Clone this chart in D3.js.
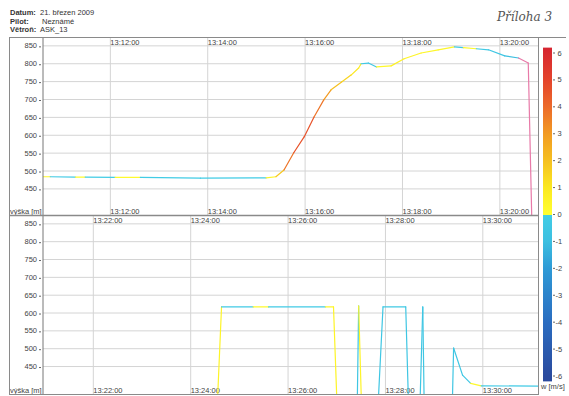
<!DOCTYPE html>
<html>
<head>
<meta charset="utf-8">
<script src="https://cdn.jsdelivr.net/npm/d3@7"></script>
<style>
  body { margin: 0; background: #fff; }
  svg { display: block; font-family: "Liberation Sans", Arial, sans-serif; }
  .grid line { stroke: #d4d4d4; stroke-width: 1; }
  .lbl { font-size: 7.5px; fill: #444; }
</style>
</head>
<body>
<div id="chart"></div>
<script>
// Header texts
var headerLabels = ["Datum:", "Pilot:", "Větroň:"];
var headerValues = ["21. březen 2009", "Neznámé", "ASK_13"];

// Upper panel (13:10:37 - 13:20:47): altitude [m] and vertical speed w [m/s] of following segment
var topRange = ["13:10:37", "13:20:47"];
var topTimes = ["13:10:37", "13:10:46", "13:11:17", "13:11:29", "13:12:06", "13:12:37", "13:13:51",
  "13:15:12", "13:15:24", "13:15:34", "13:15:46", "13:15:59", "13:16:11", "13:16:23", "13:16:32",
  "13:16:45", "13:16:57", "13:17:06", "13:17:09", "13:17:18", "13:17:28", "13:17:46", "13:18:02",
  "13:18:23", "13:18:44", "13:19:04", "13:19:15", "13:19:31", "13:19:46", "13:20:06", "13:20:23",
  "13:20:35", "13:20:40"];
var topAlt = [484, 484, 483, 483, 482, 482, 480, 481, 484, 503, 551, 596, 651, 699, 727,
  749, 769, 788, 800, 802, 791, 794, 814, 830, 839, 847, 845, 842, 839, 822, 816,
  802, 300];
var topW = [0.3, -0.2, 0.2, -0.1, 0.2, -0.1, -0.1, 0.5, 1.8, 3.8, 4.6, 4.6, 3.8, 3.0, 2.0,
  1.5, 1.0, 0.8, -0.3, -0.4, 0.3, 0.6, 0.5, 0.4, 0.4, -0.3, 0.3, -0.3, -0.5, -1.0, -9,
  -9, -9];

// Lower panel (13:20:58 - 13:31:08)
var botRange = ["13:20:58", "13:31:08"];
var botTimes = ["13:20:58", "13:24:32", "13:24:38", "13:25:17", "13:25:36", "13:26:46", "13:26:56",
  "13:27:01", "13:27:25", "13:27:27", "13:27:31", "13:27:50", "13:27:57", "13:28:25", "13:28:29",
  "13:28:42", "13:28:46", "13:28:48", "13:29:22", "13:29:24", "13:29:35", "13:29:45", "13:29:58",
  "13:31:08"];
var botAlt = [300, 300, 617, 617, 617, 617, 617, 300, 300, 620, 300, 300, 617, 617, 300,
  300, 617, 300, 300, 502, 426, 403, 396, 395];
var botW = [-0.3, 0.5, -0.2, 0.2, -0.2, 0.3, 0.5, -0.3, -0.5, 0.5, -0.3, -0.5, -0.3, -0.5, -0.3,
  -0.5, -0.5, -0.3, -0.5, -0.5, -0.4, 0.3, -0.2, -0.2];

// Altitude ticks and colour bar ticks
var altTicks = [450, 500, 550, 600, 650, 700, 750, 800, 850];
var wTicks = [-6, -5, -4, -3, -2, -1, 0, 1, 2, 3, 4, 5, 6];

var svgWidth = 569, svgHeight = 396;
var svg = d3.select("#chart").append("svg")
  .attr("width", svgWidth)
  .attr("height", svgHeight);

var parseTime = d3.timeParse("%H:%M:%S");
var fmt = d3.timeFormat("%H:%M:%S");

// Colour of vertical speed
var negColor = d3.scaleLinear()
  .domain([-6, -4, -2, -1, 0])
  .range(["#2a4a9e", "#2a6cc0", "#2e9ad6", "#3cbfe0", "#42cde6"]);
var posColor = d3.scaleLinear()
  .domain([0, 1, 2, 3, 4, 5, 6])
  .range(["#ffff30", "#fbe820", "#f5c020", "#f29a22", "#ec6a2a", "#e4442c", "#d82a30"]);
function wColor(w) {
  if (w < -6) return "#e87aa8";
  return w < 0 ? negColor(w) : posColor(w);
}

// Header
var header = svg.append("g");
headerLabels.forEach(function(h, i) {
  var t = header.append("text")
    .attr("x", 10)
    .attr("y", 15 + i * 8.7)
    .style("font-size", "7.5px")
    .style("fill", "#333");
  t.append("tspan").style("font-weight", "bold").text(h);
  t.append("tspan").attr("x", i == 1 ? 42 : 40).text(headerValues[i]);
});
svg.append("text")
  .attr("x", 497)
  .attr("y", 21)
  .style("font-family", "'DejaVu Serif', serif")
  .style("font-style", "italic")
  .style("font-size", "12px")
  .style("fill", "#555")
  .text("Příloha 3");

var plotLeft = 43, plotRight = 538;

function drawPanel(id, range, times, alt, w, top, bottom) {
  var x = d3.scaleTime()
    .domain(range.map(parseTime))
    .range([plotLeft, plotRight]);
  var y = d3.scaleLinear()
    .domain([id == "top" ? 377 : 373, 872])
    .range([bottom, top]);

  var g = svg.append("g");

  // horizontal grid + y labels
  g.append("g").attr("class", "grid")
    .selectAll("line").data(altTicks).enter().append("line")
    .attr("x1", plotLeft).attr("x2", plotRight)
    .attr("y1", d => y(d)).attr("y2", d => y(d));
  g.selectAll(".ylab").data(altTicks).enter().append("text")
    .attr("class", "lbl")
    .attr("x", 37)
    .attr("y", d => y(d) + 2.5)
    .attr("text-anchor", "end")
    .text(d => d);
  g.selectAll(".ytick").data(altTicks).enter().append("line")
    .attr("x1", 39).attr("x2", 41)
    .attr("y1", d => y(d) + 1).attr("y2", d => y(d) + 1)
    .attr("stroke", "#666");

  // vertical grid + time labels top and bottom
  var tTicks = x.ticks(d3.timeMinute.every(2));
  g.append("g").attr("class", "grid")
    .selectAll("line").data(tTicks).enter().append("line")
    .attr("x1", d => x(d)).attr("x2", d => x(d))
    .attr("y1", top).attr("y2", bottom);
  g.selectAll(".tlabTop").data(tTicks).enter().append("text")
    .attr("class", "lbl")
    .attr("x", d => x(d))
    .attr("y", top + 7)
    .text(d => fmt(d));
  g.selectAll(".tlabBot").data(tTicks).enter().append("text")
    .attr("class", "lbl")
    .attr("x", d => x(d))
    .attr("y", bottom - 1)
    .text(d => fmt(d));

  g.append("text")
    .attr("class", "lbl")
    .attr("x", 10)
    .attr("y", bottom - 1)
    .text("výška [m]");

  // clip
  svg.append("clipPath").attr("id", "clip-" + id)
    .append("rect")
    .attr("x", plotLeft).attr("y", top)
    .attr("width", plotRight - plotLeft).attr("height", bottom - top);

  var line = d3.line().x(d => x(d.t)).y(d => y(d.a));
  var pts = times.map((t, i) => ({ t: parseTime(t), a: alt[i], w: w[i] }));
  var segs = d3.pairs(pts);
  g.append("g").attr("clip-path", "url(#clip-" + id + ")")
    .selectAll("path").data(segs).enter().append("path")
    .attr("d", d => line(d))
    .attr("fill", "none")
    .attr("stroke", d => wColor(d[0].w))
    .attr("stroke-width", 1.2)
    .attr("stroke-linecap", "round");

  // axis line
  g.append("line")
    .attr("x1", plotLeft).attr("x2", plotLeft)
    .attr("y1", top).attr("y2", bottom)
    .attr("stroke", "#777");
}

drawPanel("top", topRange, topTimes, topAlt, topW, 38, 215);
drawPanel("bot", botRange, botTimes, botAlt, botW, 216, 394);

// Frames
var frame = svg.append("g").attr("fill", "none").attr("stroke", "#8a8a8a");
frame.append("line").attr("x1", 9).attr("x2", 566).attr("y1", 37.5).attr("y2", 37.5).attr("stroke-width", 1.2);
frame.append("line").attr("x1", 9.5).attr("x2", 9.5).attr("y1", 37).attr("y2", 395);
frame.append("line").attr("x1", 9).attr("x2", 538).attr("y1", 215.5).attr("y2", 215.5).attr("stroke-width", 1.5);
frame.append("line").attr("x1", 9).attr("x2", 538).attr("y1", 394.5).attr("y2", 394.5);
frame.append("line").attr("x1", 538.5).attr("x2", 538.5).attr("y1", 37).attr("y2", 395);

// Colour bar
var yW = d3.scaleLinear().domain([-6, 6]).range([376, 53]);
var defs = svg.append("defs");
var grad = defs.append("linearGradient")
  .attr("id", "wgrad")
  .attr("x1", 0).attr("x2", 0).attr("y1", 1).attr("y2", 0);
var barMin = -6.2, barMax = 6.2;
var zeroOff = (0 - barMin) / (barMax - barMin);
var stopData = d3.range(barMin, barMax + 0.001, 0.1)
  .filter(v => Math.abs(v) > 0.01)
  .map(v => ({ off: (v - barMin) / (barMax - barMin), c: wColor(Math.max(v, -6)) }));
// hard edge at zero
stopData.push({ off: zeroOff, c: negColor(0) });
stopData.push({ off: zeroOff, c: posColor(0) });
stopData.sort((a, b) => a.off - b.off || (a.c == negColor(0) ? -1 : 1));
grad.selectAll("stop").data(stopData).enter().append("stop")
  .attr("offset", d => d.off)
  .attr("stop-color", d => d.c);

svg.append("rect")
  .attr("x", 543)
  .attr("y", yW(barMax))
  .attr("width", 9)
  .attr("height", yW(barMin) - yW(barMax))
  .attr("fill", "url(#wgrad)");

svg.selectAll(".wtick").data(wTicks).enter().append("line")
  .attr("x1", 553).attr("x2", 555)
  .attr("y1", d => yW(d)).attr("y2", d => yW(d))
  .attr("stroke", "#666");
svg.selectAll(".wlab").data(wTicks).enter().append("text")
  .attr("class", "lbl")
  .attr("x", d => d < 0 ? 555.5 : 557.5)
  .attr("y", d => yW(d) + 2.5)
  .text(d => d);
svg.append("text")
  .attr("class", "lbl")
  .attr("x", 541)
  .attr("y", 389)
  .text("w [m/s]");
</script>
</body>
</html>
